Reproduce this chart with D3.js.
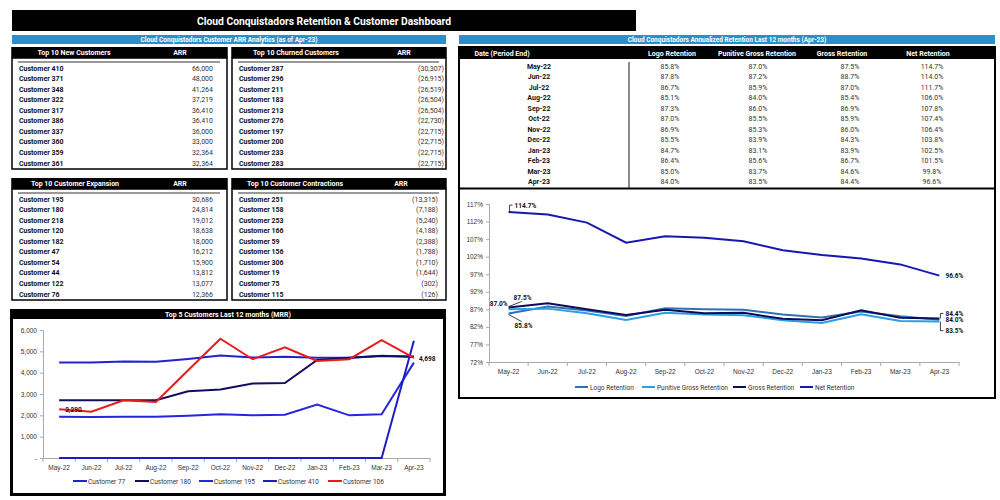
<!DOCTYPE html>
<html lang="en">
<head>
<meta charset="UTF-8">
<script src="https://d3js.org/d3.v7.min.js"></script>
<title>Cloud Conquistadors Retention & Customer Dashboard</title>
<style>
  body { margin: 0; background: #fff; }
  svg { display: block; font-family: "Liberation Sans Narrow", "Roboto", sans-serif; }
</style>
</head>
<body>
<div id="dash"></div>
<script>
// ---------- data ----------
const newNames = ["Customer 410", "Customer 371", "Customer 348", "Customer 322", "Customer 317",
                  "Customer 386", "Customer 337", "Customer 360", "Customer 359", "Customer 361"];
const newArr = [66000, 48000, 41264, 37219, 36410, 36410, 36000, 33000, 32364, 32364];

const churnNames = ["Customer 287", "Customer 296", "Customer 211", "Customer 183", "Customer 213",
                    "Customer 276", "Customer 197", "Customer 200", "Customer 233", "Customer 283"];
const churnArr = [-30307, -26915, -26519, -26504, -26504, -22730, -22715, -22715, -22715, -22715];

const expNames = ["Customer 195", "Customer 180", "Customer 218", "Customer 120", "Customer 182",
                  "Customer 47", "Customer 54", "Customer 44", "Customer 122", "Customer 76"];
const expArr = [30686, 24814, 19012, 18638, 18000, 16212, 15900, 13812, 13077, 12366];

const contrNames = ["Customer 251", "Customer 158", "Customer 253", "Customer 166", "Customer 59",
                    "Customer 156", "Customer 306", "Customer 19", "Customer 75", "Customer 115"];
const contrArr = [-13315, -7188, -5240, -4188, -2388, -1788, -1710, -1644, -302, -126];

const months = ["May-22", "Jun-22", "Jul-22", "Aug-22", "Sep-22", "Oct-22",
                "Nov-22", "Dec-22", "Jan-23", "Feb-23", "Mar-23", "Apr-23"];

const logoRet     = [85.8, 87.8, 86.7, 85.1, 87.3, 87.0, 86.9, 85.5, 84.7, 86.4, 85.0, 84.0];
const punitiveRet = [87.0, 87.2, 85.9, 84.0, 86.0, 85.5, 85.3, 83.9, 83.1, 85.6, 83.7, 83.5];
const grossRet    = [87.5, 88.7, 87.0, 85.4, 86.9, 85.9, 86.0, 84.3, 83.9, 86.7, 84.6, 84.4];
const netRet      = [114.7, 114.0, 111.7, 106.0, 107.8, 107.4, 106.4, 103.8, 102.5, 101.5, 99.8, 96.6];

const retTicks = [72, 77, 82, 87, 92, 97, 102, 107, 112, 117];

const cust77  = [4480, 4480, 4520, 4510, 4640, 4800, 4710, 4750, 4700, 4700, 4790, 4740];
const cust180 = [2710, 2710, 2710, 2710, 3130, 3210, 3490, 3510, 4600, 4700, 4780, 4760];
const cust195 = [1930, 1920, 1930, 1930, 1980, 2050, 2000, 2030, 2500, 2000, 2050, 4470];
const cust410 = [0, 0, 0, 0, 0, 0, 0, 0, 0, 0, 0, 5500];
const cust106 = [2290, 2170, 2710, 2630, 4110, 5590, 4630, 5190, 4550, 4630, 5520, 4698];

const mrrTicks = [0, 1000, 2000, 3000, 4000, 5000, 6000];

// ---------- helpers ----------
const fmtNum = d3.format(",");
const fmtAcct = v => v < 0 ? "(" + fmtNum(-v) + ")" : fmtNum(v);
const fmtPct = v => v.toFixed(1) + "%";
const blueBar = "#2b8fcb";

const svg = d3.select("#dash").append("svg")
    .attr("width", 1000)
    .attr("height", 500);

// title bar
svg.append("rect").attr("x", 12).attr("y", 10).attr("width", 624).attr("height", 21).attr("fill", "#000");
svg.append("text").attr("x", 324).attr("y", 24.5).attr("text-anchor", "middle")
    .attr("fill", "#fff").attr("font-weight", "bold").attr("font-size", 11.5)
    .attr("textLength", 254).attr("lengthAdjust", "spacingAndGlyphs")
    .text("Cloud Conquistadors Retention & Customer Dashboard");

// section bars
function sectionBar(x, w, label) {
    svg.append("rect").attr("x", x).attr("y", 35).attr("width", w).attr("height", 9).attr("fill", blueBar);
    svg.append("text").attr("x", x + w / 2).attr("y", 42).attr("text-anchor", "middle")
        .attr("fill", "#fff").attr("font-weight", "bold").attr("font-size", 6.5).text(label);
}
sectionBar(12, 434, "Cloud Conquistadors Customer ARR Analytics  (as of Apr-23)");
sectionBar(459, 536, "Cloud Conquistadors Annualized Retention Last 12 months (Apr-23)");

// ---------- top-10 lists ----------
function drawList(o) {
    const g = svg.append("g");
    g.append("rect").attr("x", o.x).attr("y", o.y + 11).attr("width", o.w).attr("height", o.h - 11)
        .attr("fill", "#fff").attr("stroke", "#000").attr("stroke-width", 1.5);
    g.append("rect").attr("x", o.x - 0.75).attr("y", o.y).attr("width", o.w + 1.5).attr("height", 11).attr("fill", "#000");
    g.append("text").attr("x", o.titleX).attr("y", o.y + 8).attr("text-anchor", "middle")
        .attr("fill", "#fff").attr("font-weight", "bold").attr("font-size", 7).text(o.title);
    g.append("text").attr("x", o.arrX).attr("y", o.y + 8).attr("text-anchor", "middle")
        .attr("fill", "#fff").attr("font-weight", "bold").attr("font-size", 7).text("ARR");
    g.append("line").attr("x1", o.x + 6).attr("x2", o.x + o.w - 7)
        .attr("y1", o.y + 15).attr("y2", o.y + 15).attr("stroke", "#777").attr("stroke-width", 1.5);

    const ry = d3.scalePoint().domain(d3.range(o.names.length)).range([o.y + 21, o.y + 116]);
    g.selectAll(".nm").data(o.names).enter().append("text")
        .attr("x", o.x + 7).attr("y", (d, i) => ry(i) + 2.5)
        .attr("font-size", 7).attr("font-weight", "bold").attr("fill", "#111").text(d => d);
    g.selectAll(".vl").data(o.values).enter().append("text")
        .attr("x", o.valueX).attr("y", (d, i) => ry(i) + 2.5).attr("text-anchor", "end")
        .attr("font-size", 7).attr("fill", "#333").text(d => fmtAcct(d));
}
drawList({ x: 12, y: 47, w: 215, h: 122, title: "Top 10 New Customers", titleX: 74, arrX: 180,
           names: newNames, values: newArr, valueX: 213 });
drawList({ x: 232, y: 47, w: 214, h: 122, title: "Top 10 Churned Customers", titleX: 296, arrX: 404,
           names: churnNames, values: churnArr, valueX: 444 });
drawList({ x: 12, y: 178, w: 215, h: 122, title: "Top 10 Customer Expansion", titleX: 75, arrX: 180,
           names: expNames, values: expArr, valueX: 213 });
drawList({ x: 232, y: 178, w: 214, h: 122, title: "Top 10 Customer Contractions", titleX: 295, arrX: 401,
           names: contrNames, values: contrArr, valueX: 438 });

// ---------- retention table ----------
const rt = svg.append("g");
rt.append("rect").attr("x", 459).attr("y", 47).attr("width", 536).attr("height", 351)
    .attr("fill", "#fff").attr("stroke", "#000").attr("stroke-width", 2);
rt.append("rect").attr("x", 458).attr("y", 47).attr("width", 538).attr("height", 12).attr("fill", "#000");
const retCols = [
    { name: "Date (Period End)", hx: 502 },
    { name: "Logo Retention", hx: 672, vx: 670, data: logoRet },
    { name: "Punitive Gross Retention", hx: 757, vx: 758, data: punitiveRet },
    { name: "Gross Retention", hx: 842, vx: 850, data: grossRet },
    { name: "Net Retention", hx: 928, vx: 932, data: netRet }
];
rt.selectAll(".hd").data(retCols).enter().append("text")
    .attr("x", d => d.hx).attr("y", 55.5).attr("text-anchor", "middle")
    .attr("fill", "#fff").attr("font-weight", "bold").attr("font-size", 7).text(d => d.name);
rt.append("line").attr("x1", 629).attr("x2", 629).attr("y1", 62).attr("y2", 188)
    .attr("stroke", "#666").attr("stroke-width", 1.5);
rt.append("line").attr("x1", 459).attr("x2", 995).attr("y1", 188.5).attr("y2", 188.5)
    .attr("stroke", "#000").attr("stroke-width", 2);
const rowY = d3.scalePoint().domain(months).range([66, 181.5]);
rt.selectAll(".dt").data(months).enter().append("text")
    .attr("x", 539).attr("y", d => rowY(d) + 2.5).attr("text-anchor", "middle")
    .attr("font-size", 7).attr("font-weight", "bold").attr("fill", "#111").text(d => d);
retCols.slice(1).forEach(c => {
    rt.selectAll(null).data(c.data).enter().append("text")
        .attr("x", c.vx).attr("y", (d, i) => rowY(months[i]) + 2.5).attr("text-anchor", "middle")
        .attr("font-size", 7).attr("fill", "#333").text(d => fmtPct(d));
});

// ---------- retention chart ----------
const xR = d3.scaleBand().domain(months).range([489, 959]);
const yR = d3.scaleLinear().domain([72, 117]).range([362, 204]);
const cx = m => xR(m) + xR.bandwidth() / 2;

const rAxisY = svg.append("g").attr("transform", "translate(489,0)")
    .call(d3.axisLeft(yR).tickValues(retTicks).tickSize(3).tickFormat(d => d + "%"));
rAxisY.select(".domain").attr("stroke", "#aaa");
rAxisY.selectAll(".tick line").attr("stroke", "#aaa");
rAxisY.selectAll("text").attr("font-size", 6.5).attr("fill", "#333").attr("font-family", null);

const rAxisX = svg.append("g").attr("transform", "translate(0,362)")
    .call(d3.axisBottom(xR).tickSize(0).tickPadding(7));
rAxisX.select(".domain").attr("stroke", "#aaa");
rAxisX.selectAll("text").attr("font-size", 6.5).attr("fill", "#333").attr("font-family", null);
svg.append("g").selectAll("line").data(months.concat(["end"])).enter().append("line")
    .attr("x1", (d, i) => 489 + i * xR.step()).attr("x2", (d, i) => 489 + i * xR.step())
    .attr("y1", 362).attr("y2", 366).attr("stroke", "#aaa");

const retSeries = [
    { name: "Logo Retention", data: logoRet, color: "#2e72b4", lx: 575 },
    { name: "Punitive Gross Retention", data: punitiveRet, color: "#2a9fe8", lx: 642 },
    { name: "Gross Retention", data: grossRet, color: "#0c0c5a", lx: 733 },
    { name: "Net Retention", data: netRet, color: "#1818b0", lx: 800 }
];
const rLine = d3.line().x((d, i) => cx(months[i])).y(d => yR(d));
svg.append("g").selectAll("path").data(retSeries).enter().append("path")
    .attr("d", d => rLine(d.data)).attr("fill", "none")
    .attr("stroke", d => d.color).attr("stroke-width", 2);

const rLeg = svg.append("g").selectAll("g").data(retSeries).enter().append("g");
rLeg.append("line").attr("x1", d => d.lx).attr("x2", d => d.lx + 13).attr("y1", 387).attr("y2", 387)
    .attr("stroke", d => d.color).attr("stroke-width", 2);
rLeg.append("text").attr("x", d => d.lx + 15).attr("y", 389.5).attr("font-size", 6.5).attr("fill", "#333").text(d => d.name);

// data labels, retention chart
const m0 = cx(months[0]), mN = cx(months[months.length - 1]), last = months.length - 1;
const rLab = svg.append("g").attr("font-size", 6.5).attr("font-weight", "bold").attr("fill", "#111");
function leader(d) { rLab.append("path").attr("d", d).attr("fill", "none").attr("stroke", "#111").attr("stroke-width", 0.8); }
leader(`M${m0 + 1},${yR(netRet[0])} V${yR(netRet[0]) - 7} H${m0 + 4}`);
rLab.append("text").attr("x", m0 + 6).attr("y", yR(netRet[0]) - 4.5).text(fmtPct(netRet[0]));
rLab.append("text").attr("x", m0 - 1).attr("y", yR(punitiveRet[0]) - 3.5).attr("text-anchor", "end").text(fmtPct(punitiveRet[0]));
leader(`M${m0},${yR(grossRet[0]) - 1} L${m0 + 13},${yR(grossRet[0]) - 6}`);
rLab.append("text").attr("x", m0 + 5).attr("y", yR(grossRet[0]) - 8).text(fmtPct(grossRet[0]));
leader(`M${m0},${yR(logoRet[0]) + 1} L${m0 + 13},${yR(logoRet[0]) + 8}`);
rLab.append("text").attr("x", m0 + 6).attr("y", yR(logoRet[0]) + 14.5).text(fmtPct(logoRet[0]));
rLab.append("text").attr("x", mN + 6).attr("y", yR(netRet[last]) + 2.5).text(fmtPct(netRet[last]));
leader(`M${mN + 1},${yR(grossRet[last])} V${yR(grossRet[last]) - 5} H${mN + 4}`);
rLab.append("text").attr("x", mN + 6).attr("y", yR(grossRet[last]) - 2.5).text(fmtPct(grossRet[last]));
rLab.append("text").attr("x", mN + 6).attr("y", yR(logoRet[last]) + 2.5).text(fmtPct(logoRet[last]));
leader(`M${mN + 1},${yR(punitiveRet[last])} V${yR(punitiveRet[last]) + 9} H${mN + 4}`);
rLab.append("text").attr("x", mN + 6).attr("y", yR(punitiveRet[last]) + 11.5).text(fmtPct(punitiveRet[last]));

// ---------- top 5 customers chart ----------
svg.append("rect").attr("x", 10).attr("y", 309).attr("width", 436).attr("height", 187).attr("fill", "#000");
svg.append("rect").attr("x", 13).attr("y", 319).attr("width", 430).attr("height", 174).attr("fill", "#fff");
svg.append("text").attr("x", 228).attr("y", 316.5).attr("text-anchor", "middle")
    .attr("fill", "#fff").attr("font-weight", "bold").attr("font-size", 7)
    .text("Top 5 Customers Last 12 months (MRR)");

const xL = d3.scaleBand().domain(months).range([43, 430]);
const yL = d3.scaleLinear().domain([0, 6000]).range([458, 330]);
const cxl = m => xL(m) + xL.bandwidth() / 2;

const lAxisY = svg.append("g").attr("transform", "translate(43,0)")
    .call(d3.axisLeft(yL).tickValues(mrrTicks).tickSize(3).tickFormat(d => d === 0 ? "-" : fmtNum(d)));
lAxisY.select(".domain").attr("stroke", "#aaa");
lAxisY.selectAll(".tick line").attr("stroke", "#aaa");
lAxisY.selectAll("text").attr("font-size", 6.5).attr("fill", "#333").attr("font-family", null);

const lAxisX = svg.append("g").attr("transform", "translate(0,458)")
    .call(d3.axisBottom(xL).tickSize(0).tickPadding(7));
lAxisX.select(".domain").attr("stroke", "#aaa");
lAxisX.selectAll("text").attr("font-size", 6.5).attr("fill", "#333").attr("font-family", null);
svg.append("g").selectAll("line").data(months.concat(["end"])).enter().append("line")
    .attr("x1", (d, i) => 43 + i * xL.step()).attr("x2", (d, i) => 43 + i * xL.step())
    .attr("y1", 458).attr("y2", 462).attr("stroke", "#aaa");

const custSeries = [
    { name: "Customer 77", data: cust77, color: "#2222d0", lx: 73 },
    { name: "Customer 180", data: cust180, color: "#0f0f5c", lx: 135 },
    { name: "Customer 195", data: cust195, color: "#2626dc", lx: 199 },
    { name: "Customer 410", data: cust410, color: "#1d1dc4", lx: 263 },
    { name: "Customer 106", data: cust106, color: "#e81a1a", lx: 328 }
];
const lLine = d3.line().x((d, i) => cxl(months[i])).y(d => yL(d));
svg.append("g").selectAll("path").data(custSeries).enter().append("path")
    .attr("d", d => lLine(d.data)).attr("fill", "none")
    .attr("stroke", d => d.color).attr("stroke-width", 2);

const lLeg = svg.append("g").selectAll("g").data(custSeries).enter().append("g");
lLeg.append("line").attr("x1", d => d.lx).attr("x2", d => d.lx + 14).attr("y1", 481).attr("y2", 481)
    .attr("stroke", d => d.color).attr("stroke-width", 2);
lLeg.append("text").attr("x", d => d.lx + 15).attr("y", 483.5).attr("font-size", 6.5).attr("fill", "#333").text(d => d.name);

const lLab = svg.append("g").attr("font-size", 6.5).attr("font-weight", "bold").attr("fill", "#111");
lLab.append("text").attr("x", cxl(months[0]) + 6).attr("y", yL(cust106[0]) + 2.5).text(fmtNum(cust106[0]));
lLab.append("text").attr("x", cxl(months[last]) + 5).attr("y", yL(cust106[last]) + 3).text(fmtNum(cust106[last]));
</script>
</body>
</html>
